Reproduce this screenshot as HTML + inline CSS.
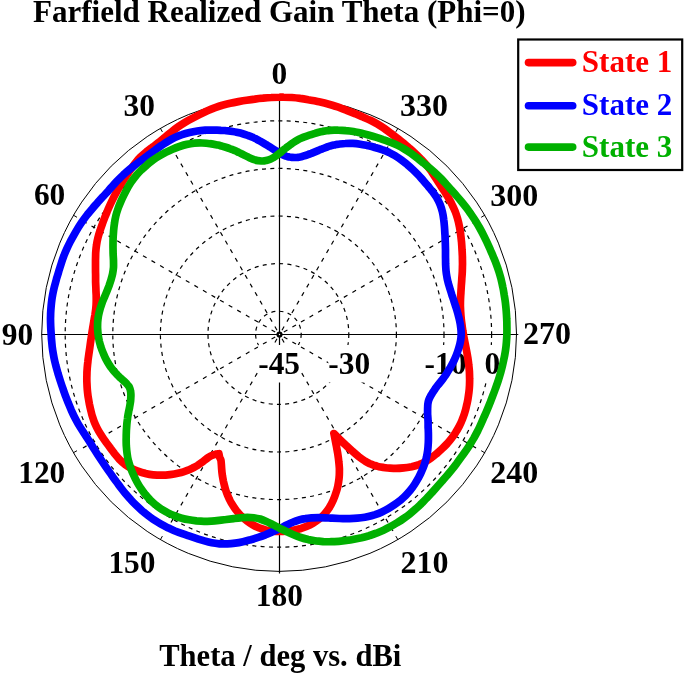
<!DOCTYPE html>
<html lang="en"><head><meta charset="utf-8"><title>Farfield Realized Gain Theta (Phi=0)</title>
<style>html,body{margin:0;padding:0;background:#fff}body{width:685px;height:675px;overflow:hidden}</style></head>
<body>
<svg width="685" height="675" viewBox="0 0 685 675" style="display:block">
<rect width="685" height="675" fill="#fff"/>
<g fill="none" stroke="#000" stroke-width="1">
<circle cx="278.4" cy="334.0" r="22.8" stroke-width="1.2" stroke-dasharray="4 4.3"/>
<circle cx="278.4" cy="334.0" r="70.4" stroke-width="1.2" stroke-dasharray="4 4.3"/>
<circle cx="278.4" cy="334.0" r="118.0" stroke-width="1.2" stroke-dasharray="4 4.3"/>
<circle cx="278.4" cy="334.0" r="165.6" stroke-width="1.2" stroke-dasharray="4 4.3"/>
<circle cx="278.4" cy="334.0" r="213.2" stroke-width="1.2" stroke-dasharray="4 4.3"/>
<line x1="277.0" y1="330.2" x2="163.3" y2="133.2" stroke-width="1.2" stroke-dasharray="4.2 5.7"/>
<line x1="162.4" y1="131.9" x2="160.2" y2="128.0"/>
<line x1="275.2" y1="332.0" x2="78.2" y2="218.3" stroke-width="1.2" stroke-dasharray="4.2 5.7"/>
<line x1="77.0" y1="217.3" x2="73.1" y2="215.0"/>
<line x1="275.2" y1="337.0" x2="78.2" y2="450.7" stroke-width="1.2" stroke-dasharray="4.2 5.7"/>
<line x1="77.0" y1="450.7" x2="73.1" y2="452.9"/>
<line x1="277.0" y1="338.8" x2="163.3" y2="535.8" stroke-width="1.2" stroke-dasharray="4.2 5.7"/>
<line x1="162.4" y1="536.1" x2="160.2" y2="540.0"/>
<line x1="282.0" y1="338.8" x2="395.7" y2="535.8" stroke-width="1.2" stroke-dasharray="4.2 5.7"/>
<line x1="395.8" y1="536.1" x2="398.1" y2="540.0"/>
<line x1="283.8" y1="337.0" x2="480.8" y2="450.7" stroke-width="1.2" stroke-dasharray="4.2 5.7"/>
<line x1="481.2" y1="450.7" x2="485.1" y2="453.0"/>
<line x1="283.8" y1="332.0" x2="480.8" y2="218.3" stroke-width="1.2" stroke-dasharray="4.2 5.7"/>
<line x1="481.2" y1="217.3" x2="485.1" y2="215.0"/>
<line x1="282.0" y1="330.2" x2="395.7" y2="133.2" stroke-width="1.2" stroke-dasharray="4.2 5.7"/>
<line x1="395.8" y1="131.9" x2="398.1" y2="128.0"/>
<line x1="41.7" y1="334.5" x2="518.3" y2="334.5" stroke-width="1.2"/>
<line x1="279.5" y1="96" x2="279.5" y2="573.4" stroke-width="1.2"/>
<circle cx="279.1" cy="334.0" r="237.4"/>
<circle cx="279.5" cy="334.5" r="1.9" fill="#fff" stroke-width="2.4"/>
</g>
<g font-family="Liberation Serif, Times New Roman, serif" font-weight="bold">
<rect x="258.2" y="345" width="41.9" height="37.5" fill="#fff"/>
<text transform="translate(279.1 373.8) scale(1.0 1)" font-size="31.4" text-anchor="middle" fill="#000">-45</text>
<rect x="328.3" y="345" width="41.9" height="37.5" fill="#fff"/>
<text transform="translate(349.2 373.8) scale(1.0 1)" font-size="31.4" text-anchor="middle" fill="#000">-30</text>
<rect x="424.6" y="345" width="41.9" height="37.5" fill="#fff"/>
<text transform="translate(445.5 373.8) scale(1.0 1)" font-size="31.4" text-anchor="middle" fill="#000">-10</text>
<rect x="484.4" y="345" width="15.7" height="37.5" fill="#fff"/>
<text transform="translate(492.3 373.8) scale(1.0 1)" font-size="31.4" text-anchor="middle" fill="#000">0</text>
</g>
<g fill="none" stroke-width="7.7" stroke-linejoin="round" stroke-linecap="round">
<path stroke="#ff0000" d="M279.5 97.2C277.4 97.2 274.0 97.3 271.2 97.5C268.5 97.6 265.7 97.9 263.0 98.2C260.2 98.4 257.5 98.7 254.8 99.1C252.0 99.4 249.3 99.8 246.6 100.2C243.9 100.6 241.1 101.1 238.4 101.6C235.7 102.1 233.0 102.6 230.3 103.2C227.7 103.8 225.0 104.5 222.3 105.2C219.7 106.0 217.1 106.9 214.5 107.8C211.9 108.8 209.4 109.9 206.9 111.0C204.4 112.2 201.9 113.4 199.5 114.6C197.0 115.8 194.6 117.0 192.2 118.3C189.7 119.6 187.4 120.9 185.0 122.3C182.7 123.7 180.4 125.2 178.2 126.7C175.9 128.3 173.8 130.0 171.7 131.7C169.5 133.4 167.5 135.2 165.4 136.9C163.3 138.6 161.3 140.4 159.2 142.0C157.1 143.7 155.0 145.2 152.9 146.8C150.8 148.4 148.7 149.9 146.6 151.6C144.6 153.3 142.6 155.0 140.7 156.8C138.8 158.7 137.1 160.7 135.4 162.8C133.8 164.9 132.2 167.1 130.7 169.3C129.2 171.4 127.8 173.7 126.3 175.9C124.9 178.1 123.5 180.3 122.1 182.5C120.8 184.8 119.4 187.0 118.1 189.2C116.9 191.5 115.6 193.7 114.4 196.0C113.2 198.3 112.1 200.6 111.0 202.9C109.9 205.2 108.9 207.5 107.9 209.8C106.9 212.2 106.0 214.5 105.0 216.8C104.1 219.1 103.2 221.5 102.4 223.8C101.5 226.2 100.7 228.5 100.0 230.8C99.2 233.2 98.5 235.5 97.9 237.9C97.3 240.3 96.8 242.8 96.5 245.2C96.1 247.7 95.9 250.2 95.7 252.7C95.6 255.2 95.6 257.7 95.5 260.2C95.5 262.7 95.5 265.1 95.5 267.5C95.5 270.0 95.5 272.4 95.6 274.7C95.6 277.1 95.6 279.5 95.6 281.8C95.7 284.1 95.8 286.4 95.9 288.7C95.9 291.0 96.1 293.3 96.2 295.5C96.2 297.8 96.3 300.0 96.2 302.2C96.2 304.4 96.0 306.5 95.8 308.7C95.6 310.8 95.2 313.0 94.9 315.1C94.5 317.2 94.1 319.4 93.8 321.5C93.4 323.7 93.1 325.8 92.7 328.0C92.4 330.1 92.0 332.3 91.7 334.5C91.4 336.7 91.1 338.9 90.7 341.1C90.4 343.3 90.1 345.5 89.8 347.8C89.5 350.0 89.1 352.3 88.8 354.5C88.5 356.8 88.1 359.1 87.9 361.4C87.6 363.7 87.4 366.1 87.2 368.4C87.0 370.7 86.9 373.1 86.9 375.4C86.8 377.8 86.8 380.2 86.9 382.5C87.0 384.9 87.1 387.2 87.3 389.6C87.5 392.0 87.8 394.3 88.1 396.7C88.5 399.0 88.9 401.4 89.3 403.7C89.8 406.1 90.3 408.4 90.9 410.7C91.4 413.0 92.0 415.4 92.8 417.6C93.5 419.9 94.3 422.2 95.3 424.4C96.2 426.5 97.3 428.7 98.5 430.7C99.7 432.8 101.0 434.8 102.3 436.8C103.6 438.8 105.0 440.7 106.4 442.7C107.8 444.6 109.2 446.5 110.6 448.4C112.1 450.3 113.4 452.2 114.9 454.1C116.4 455.9 117.9 457.8 119.5 459.5C121.2 461.2 122.9 462.8 124.8 464.3C126.8 465.7 128.8 467.0 131.0 468.2C133.2 469.4 135.5 470.4 137.9 471.2C140.3 472.1 142.8 472.9 145.3 473.4C147.9 474.0 150.5 474.5 153.2 474.8C155.9 475.1 158.6 475.2 161.5 475.2C164.3 475.2 167.1 475.0 170.0 474.6C172.9 474.2 176.6 473.5 178.9 473.0C181.1 472.5 181.8 472.3 183.4 471.8C184.9 471.3 186.4 470.8 188.0 470.2C189.6 469.5 191.2 468.8 192.8 468.0C194.5 467.1 196.1 466.3 197.9 465.2C199.6 464.0 201.5 462.6 203.3 461.3C205.1 459.9 207.1 458.3 208.6 457.3C210.2 456.3 211.3 455.8 212.5 455.3C213.7 454.8 214.8 454.4 215.9 454.1C216.9 453.9 218.4 453.8 218.9 453.7C219.0 454.3 219.3 456.2 219.6 457.2C220.0 458.3 220.6 458.8 220.9 460.1C221.2 461.4 221.2 463.3 221.4 465.1C221.5 466.8 221.6 468.8 221.8 470.5C221.9 472.3 222.2 474.1 222.4 475.8C222.7 477.5 223.0 479.2 223.3 480.8C223.7 482.5 224.1 484.1 224.5 485.7C224.9 487.3 225.3 488.9 225.8 490.4C226.3 492.0 226.8 493.4 227.4 494.8C228.0 496.3 228.6 497.6 229.2 498.9C229.9 500.2 230.1 501.0 231.2 502.8C232.3 504.6 234.2 507.6 235.8 509.8C237.4 512.0 239.2 513.9 241.0 515.8C242.8 517.6 244.7 519.2 246.7 520.7C248.6 522.2 250.7 523.6 252.8 524.8C254.8 525.9 257.0 527.0 259.2 527.9C261.4 528.7 263.6 529.4 265.8 530.0C268.1 530.5 270.4 530.8 272.6 531.1C274.9 531.3 277.2 531.4 279.5 531.5C281.8 531.5 284.1 531.4 286.4 531.2C288.7 531.0 290.9 530.7 293.2 530.3C295.5 529.9 297.7 529.4 299.9 528.8C302.1 528.1 304.3 527.3 306.5 526.4C308.6 525.5 310.7 524.5 312.8 523.3C314.8 522.1 316.9 520.8 318.8 519.3C320.7 517.7 322.6 516.1 324.3 514.2C326.0 512.3 327.7 510.2 329.2 507.9C330.7 505.5 332.1 502.9 333.3 500.1C334.5 497.4 335.8 493.5 336.5 491.2C337.3 488.9 337.4 488.0 337.8 486.3C338.1 484.6 338.5 482.9 338.7 481.0C339.0 479.2 339.2 477.3 339.3 475.3C339.4 473.3 339.4 471.2 339.4 468.9C339.3 466.7 339.1 464.2 338.8 461.7C338.6 459.3 338.2 456.6 337.8 454.0C337.4 451.4 336.8 448.6 336.4 446.1C335.9 443.6 335.4 441.0 335.0 438.9C334.6 436.8 334.1 434.4 333.9 433.5C335.0 434.6 338.4 438.0 340.4 440.1C342.5 442.1 344.3 443.8 346.3 445.6C348.3 447.5 350.3 449.4 352.4 451.2C354.5 453.1 356.9 455.2 358.9 456.8C361.0 458.4 363.0 459.9 364.9 461.0C366.7 462.2 368.4 463.0 370.0 463.8C371.6 464.5 373.2 465.0 374.7 465.5C376.2 466.0 377.6 466.3 379.1 466.7C380.5 467.0 382.0 467.2 383.4 467.4C384.8 467.7 385.5 467.8 387.6 468.0C389.7 468.1 393.2 468.4 395.9 468.4C398.6 468.4 401.3 468.2 403.9 467.9C406.6 467.7 409.2 467.2 411.7 466.7C414.2 466.1 416.7 465.4 419.0 464.6C421.3 463.7 423.5 462.7 425.6 461.5C427.7 460.4 429.7 459.0 431.6 457.6C433.5 456.3 435.3 454.7 437.1 453.2C438.9 451.7 440.6 450.1 442.3 448.5C444.0 446.9 445.7 445.2 447.3 443.5C448.9 441.7 450.4 439.9 451.8 438.0C453.2 436.2 454.6 434.2 455.8 432.2C457.1 430.2 458.2 428.2 459.3 426.1C460.4 424.0 461.4 421.9 462.2 419.7C463.1 417.5 463.9 415.3 464.6 413.1C465.3 410.8 465.9 408.5 466.4 406.3C467.0 404.0 467.5 401.7 467.9 399.4C468.3 397.1 468.6 394.7 468.9 392.4C469.2 390.1 469.4 387.7 469.5 385.4C469.6 383.1 469.7 380.7 469.6 378.4C469.6 376.1 469.5 373.7 469.4 371.4C469.2 369.1 469.0 366.8 468.7 364.5C468.5 362.2 468.1 359.9 467.8 357.6C467.4 355.4 467.0 353.1 466.6 350.9C466.2 348.6 465.7 346.4 465.3 344.2C464.9 342.0 464.4 339.9 464.0 337.7C463.6 335.6 463.3 333.4 462.9 331.3C462.6 329.2 462.2 327.1 462.0 324.9C461.7 322.8 461.4 320.7 461.2 318.6C461.0 316.5 460.8 314.4 460.7 312.3C460.5 310.1 460.5 308.0 460.4 305.8C460.4 303.7 460.4 301.5 460.5 299.3C460.6 297.1 460.7 294.9 460.9 292.6C461.0 290.4 461.2 288.1 461.3 285.8C461.5 283.5 461.7 281.1 461.8 278.8C462.0 276.4 462.2 274.0 462.3 271.6C462.4 269.2 462.4 266.7 462.5 264.3C462.5 261.8 462.4 259.4 462.4 256.9C462.3 254.4 462.2 251.9 462.0 249.4C461.9 246.9 461.7 244.3 461.5 241.8C461.2 239.2 461.0 236.7 460.6 234.1C460.3 231.5 459.9 228.9 459.4 226.4C458.9 223.9 458.3 221.3 457.6 218.8C456.9 216.3 456.1 213.9 455.2 211.5C454.2 209.1 453.2 206.8 452.0 204.5C450.9 202.2 449.7 200.0 448.4 197.8C447.1 195.6 445.6 193.4 444.3 191.3C442.9 189.1 441.4 187.0 440.0 184.8C438.6 182.6 437.2 180.4 435.8 178.2C434.4 176.0 433.0 173.7 431.5 171.5C429.9 169.4 428.3 167.3 426.6 165.2C424.9 163.2 423.1 161.3 421.3 159.4C419.4 157.5 417.6 155.7 415.6 153.8C413.7 152.0 411.8 150.2 409.8 148.5C407.8 146.7 405.7 145.0 403.7 143.3C401.6 141.6 399.5 140.0 397.4 138.3C395.3 136.7 393.1 135.0 391.0 133.4C388.8 131.8 386.7 130.1 384.4 128.5C382.2 127.0 379.9 125.5 377.6 124.1C375.3 122.8 372.8 121.5 370.4 120.3C368.0 119.1 365.5 118.1 363.0 117.0C360.5 115.9 358.0 114.9 355.5 113.8C353.0 112.8 350.4 111.8 347.9 110.8C345.3 109.8 342.8 108.8 340.2 107.9C337.6 107.0 335.1 106.0 332.4 105.2C329.8 104.4 327.2 103.7 324.5 103.0C321.8 102.3 319.1 101.8 316.4 101.2C313.8 100.7 311.1 100.1 308.3 99.7C305.6 99.2 302.9 98.7 300.2 98.4C297.4 98.0 294.7 97.7 291.9 97.5C289.2 97.3 285.7 97.2 283.6 97.2C281.6 97.1 281.6 97.1 279.5 97.2Z"/>
<path stroke="#0000ff" d="M279.5 152.9C278.4 152.3 277.4 151.6 276.3 151.0C275.2 150.3 274.1 149.6 273.0 148.9C271.9 148.2 270.8 147.5 269.7 146.8C268.5 146.1 267.4 145.4 266.2 144.7C265.1 144.0 263.9 143.3 262.7 142.6C261.5 141.9 260.3 141.2 259.1 140.6C257.9 139.9 256.7 139.2 255.4 138.6C254.2 138.0 253.0 137.4 251.7 136.9C250.5 136.4 249.2 135.9 248.0 135.5C246.7 135.0 245.5 134.6 244.2 134.2C242.9 133.8 241.6 133.4 240.4 133.1C239.1 132.8 237.8 132.5 236.5 132.2C235.2 131.9 233.9 131.7 232.6 131.5C231.3 131.3 230.0 131.1 228.7 130.9C227.5 130.8 226.2 130.7 224.9 130.5C223.5 130.4 222.2 130.3 220.9 130.3C219.6 130.2 218.3 130.1 217.0 130.1C215.7 130.1 215.0 130.0 213.1 130.0C211.1 130.1 207.8 130.1 205.2 130.2C202.5 130.4 199.9 130.6 197.3 131.0C194.7 131.4 192.1 131.9 189.6 132.5C187.0 133.1 184.5 133.8 182.0 134.7C179.6 135.5 177.2 136.5 174.8 137.6C172.5 138.7 170.2 140.0 167.9 141.3C165.7 142.6 163.6 144.1 161.4 145.5C159.3 147.0 157.2 148.5 155.1 150.1C153.0 151.6 150.9 153.2 148.9 154.7C146.8 156.3 144.7 157.8 142.7 159.3C140.6 160.9 138.5 162.4 136.4 164.0C134.4 165.6 132.3 167.2 130.3 168.8C128.3 170.5 126.3 172.2 124.4 173.9C122.5 175.7 120.6 177.4 118.8 179.3C116.9 181.1 115.2 183.0 113.4 185.0C111.7 186.9 110.0 188.9 108.3 190.8C106.5 192.7 104.8 194.7 103.0 196.6C101.3 198.6 99.5 200.5 97.7 202.4C96.0 204.4 94.2 206.4 92.5 208.4C90.8 210.4 89.1 212.4 87.4 214.5C85.8 216.6 84.2 218.7 82.7 220.9C81.2 223.0 79.7 225.3 78.3 227.5C76.9 229.8 75.6 232.1 74.3 234.4C73.0 236.7 71.7 239.0 70.4 241.4C69.2 243.8 68.0 246.2 66.9 248.6C65.8 251.0 64.7 253.5 63.8 256.0C62.8 258.5 62.0 261.0 61.2 263.6C60.4 266.1 59.6 268.7 58.8 271.2C58.1 273.8 57.3 276.3 56.5 278.9C55.8 281.5 55.1 284.1 54.4 286.7C53.8 289.3 53.2 291.9 52.7 294.5C52.2 297.1 51.8 299.8 51.5 302.5C51.2 305.1 51.0 307.8 50.8 310.5C50.6 313.1 50.6 315.8 50.5 318.5C50.5 321.2 50.6 323.8 50.7 326.5C50.8 329.2 51.0 331.8 51.2 334.5C51.3 337.2 51.5 339.8 51.8 342.5C52.0 345.1 52.3 347.7 52.7 350.4C53.1 353.0 53.6 355.6 54.1 358.2C54.6 360.8 55.3 363.4 55.9 365.9C56.6 368.5 57.3 371.0 58.0 373.5C58.8 376.1 59.6 378.6 60.4 381.1C61.2 383.6 62.0 386.0 62.9 388.5C63.7 391.0 64.6 393.4 65.5 395.9C66.4 398.3 67.4 400.7 68.3 403.1C69.3 405.5 70.3 407.9 71.3 410.3C72.4 412.6 73.4 415.0 74.6 417.3C75.8 419.6 77.0 421.9 78.3 424.1C79.6 426.3 81.0 428.5 82.4 430.6C83.8 432.8 85.2 434.9 86.6 437.1C88.0 439.2 89.3 441.4 90.7 443.5C92.0 445.7 93.3 447.8 94.7 450.0C96.0 452.1 97.4 454.3 98.8 456.4C100.2 458.5 101.6 460.6 103.0 462.7C104.4 464.9 105.8 467.0 107.3 469.0C108.8 471.1 110.2 473.2 111.7 475.3C113.2 477.4 114.7 479.4 116.2 481.5C117.8 483.6 119.3 485.7 120.8 487.7C122.4 489.8 124.0 491.8 125.6 493.8C127.3 495.8 129.0 497.8 130.8 499.7C132.5 501.6 134.3 503.5 136.2 505.3C138.1 507.1 140.0 508.9 141.9 510.6C143.9 512.3 145.9 513.9 148.0 515.5C150.0 517.1 152.2 518.6 154.3 520.1C156.5 521.5 158.7 522.8 161.0 524.1C163.3 525.4 165.6 526.6 167.9 527.8C170.3 528.9 172.6 530.0 175.0 531.0C177.4 531.9 179.9 532.8 182.3 533.7C184.8 534.6 187.3 535.4 189.7 536.2C192.2 537.0 194.6 537.8 197.0 538.6C199.5 539.4 201.9 540.2 204.4 540.9C206.8 541.6 209.3 542.3 211.8 542.8C214.3 543.3 216.9 543.6 219.5 543.8C222.1 544.0 224.7 544.0 227.3 543.9C229.9 543.8 232.5 543.5 235.2 543.1C237.8 542.8 240.4 542.3 243.0 541.7C245.6 541.1 248.1 540.4 250.7 539.7C253.2 539.0 255.7 538.2 258.2 537.4C260.6 536.6 263.1 535.7 265.5 534.8C267.9 533.8 270.3 532.9 272.6 531.8C274.9 530.8 277.2 529.7 279.5 528.6C281.8 527.5 284.0 526.3 286.2 525.2C288.3 524.2 290.5 523.1 292.6 522.3C294.8 521.4 296.9 520.6 299.0 520.0C301.1 519.4 303.2 518.9 305.4 518.6C307.5 518.2 309.7 518.0 311.8 517.8C314.0 517.7 316.2 517.7 318.4 517.7C320.7 517.7 322.9 517.7 325.2 517.8C327.5 517.9 329.8 518.1 332.2 518.2C334.5 518.3 336.9 518.4 339.3 518.5C341.7 518.5 344.1 518.6 346.5 518.6C348.9 518.6 351.4 518.5 353.8 518.4C356.2 518.3 358.7 518.1 361.1 517.8C363.5 517.5 365.9 517.1 368.3 516.5C370.6 516.0 373.0 515.3 375.2 514.6C377.5 513.8 379.8 512.9 381.9 511.9C384.1 510.9 386.2 509.8 388.3 508.6C390.4 507.4 392.4 506.1 394.3 504.8C396.3 503.4 398.2 502.0 400.1 500.5C401.9 498.9 403.7 497.4 405.4 495.7C407.1 494.0 408.7 492.2 410.3 490.3C411.8 488.5 413.2 486.5 414.5 484.5C415.9 482.4 417.1 480.3 418.3 478.2C419.4 476.1 420.5 473.9 421.5 471.6C422.5 469.4 423.5 467.2 424.3 464.8C425.1 462.5 425.8 460.2 426.4 457.7C426.9 455.3 427.4 452.8 427.7 450.3C428.0 447.8 428.2 444.5 428.3 442.6C428.4 440.7 428.4 440.0 428.4 438.8C428.4 437.5 428.4 436.2 428.4 434.9C428.4 433.7 428.4 432.4 428.3 431.1C428.3 429.9 428.2 428.6 428.1 427.4C428.1 426.2 428.1 425.0 428.1 423.8C428.1 422.6 428.1 421.4 428.0 420.3C428.0 419.1 427.9 417.9 427.8 416.7C427.7 415.5 427.6 414.4 427.6 413.2C427.6 412.1 427.6 411.0 427.6 409.9C427.6 408.9 427.6 407.8 427.7 406.8C427.7 405.7 427.8 404.7 427.9 403.7C428.1 402.7 428.2 401.8 428.5 400.8C428.8 399.9 429.1 399.0 429.5 398.2C429.9 397.3 430.3 396.5 430.8 395.6C431.3 394.8 431.8 394.0 432.3 393.2C432.8 392.3 433.4 391.5 433.9 390.7C434.5 389.9 435.0 389.1 435.6 388.2C436.1 387.4 436.8 386.6 437.4 385.8C438.0 385.0 438.7 384.2 439.4 383.4C440.0 382.6 440.7 381.7 441.4 380.9C442.0 380.1 442.7 379.2 443.3 378.4C443.9 377.5 444.5 376.7 445.1 375.8C445.7 374.9 446.0 374.5 446.9 373.1C447.7 371.8 449.1 369.5 450.2 367.7C451.3 365.8 452.3 363.9 453.3 362.0C454.2 360.1 455.1 358.1 455.9 356.2C456.7 354.2 457.4 352.2 458.1 350.1C458.8 348.1 459.4 346.0 459.9 344.0C460.4 341.9 460.8 339.8 461.0 337.7C461.2 335.6 461.2 333.4 461.1 331.3C461.0 329.2 460.7 327.1 460.4 325.0C460.1 322.9 459.6 320.8 459.2 318.8C458.7 316.7 458.1 314.7 457.6 312.6C457.0 310.6 456.4 308.6 455.7 306.6C455.1 304.6 454.4 302.6 453.8 300.6C453.1 298.6 452.5 296.7 451.8 294.7C451.2 292.7 450.6 290.8 450.0 288.8C449.4 286.9 448.8 284.9 448.2 282.9C447.7 280.9 447.2 278.9 446.9 276.9C446.5 274.8 446.2 272.7 446.0 270.6C445.8 268.4 445.7 266.2 445.6 264.0C445.6 261.7 445.6 259.4 445.5 257.1C445.5 254.7 445.5 252.4 445.5 249.9C445.4 247.5 445.4 245.1 445.3 242.6C445.2 240.1 445.1 237.6 445.0 235.1C444.8 232.5 444.7 229.9 444.5 227.3C444.3 224.8 444.1 222.1 443.7 219.5C443.4 216.9 443.0 214.3 442.4 211.8C441.8 209.3 441.0 206.8 440.1 204.5C439.2 202.1 438.0 199.9 436.8 197.8C435.5 195.7 434.1 193.7 432.6 191.7C431.1 189.8 429.5 187.9 428.0 186.0C426.4 184.2 424.8 182.3 423.2 180.4C421.5 178.6 419.9 176.7 418.2 174.9C416.5 173.1 414.8 171.4 413.0 169.7C411.2 168.0 409.3 166.3 407.4 164.7C405.6 163.1 403.6 161.6 401.6 160.1C399.6 158.6 397.6 157.2 395.5 155.9C393.3 154.7 391.1 153.5 388.9 152.4C386.6 151.4 384.3 150.5 382.0 149.7C379.6 148.8 377.2 148.1 374.8 147.5C372.4 146.8 370.0 146.2 367.6 145.6C365.1 145.1 362.7 144.6 360.3 144.2C357.8 143.8 355.3 143.5 352.8 143.4C350.3 143.3 347.8 143.3 345.3 143.5C342.7 143.6 339.6 144.1 337.6 144.3C335.7 144.6 335.1 144.8 333.8 145.1C332.5 145.4 331.3 145.7 330.0 146.1C328.7 146.4 327.4 146.9 326.2 147.3C324.9 147.8 323.6 148.3 322.4 148.8C321.1 149.3 319.9 149.9 318.6 150.4C317.4 150.9 316.2 151.4 315.0 151.9C313.8 152.4 312.6 152.9 311.4 153.4C310.3 153.8 309.1 154.2 308.0 154.6C306.9 155.0 305.7 155.4 304.6 155.7C303.5 156.1 302.4 156.4 301.3 156.7C300.2 156.9 299.2 157.2 298.1 157.3C297.1 157.4 296.0 157.5 295.0 157.5C293.9 157.5 292.9 157.5 291.9 157.4C290.9 157.3 289.8 157.2 288.8 156.9C287.8 156.7 286.8 156.4 285.7 156.0C284.7 155.7 283.7 155.2 282.6 154.7C281.6 154.2 280.6 153.5 279.5 152.9Z"/>
<path stroke="#00b000" d="M279.5 153.2C278.4 154.1 277.4 154.9 276.4 155.6C275.3 156.4 274.3 157.1 273.3 157.7C272.3 158.4 271.3 158.9 270.3 159.3C269.3 159.7 268.3 160.1 267.3 160.3C266.3 160.6 265.3 160.7 264.3 160.8C263.3 160.9 262.3 161.0 261.3 161.0C260.2 160.9 259.2 160.8 258.2 160.7C257.1 160.5 256.0 160.3 255.0 159.9C253.9 159.6 252.8 159.2 251.7 158.7C250.5 158.2 249.4 157.7 248.2 157.1C247.1 156.6 245.9 156.0 244.7 155.4C243.5 154.8 242.3 154.1 241.0 153.5C239.8 152.9 238.5 152.3 237.3 151.7C236.0 151.1 234.8 150.6 233.5 150.0C232.2 149.5 231.0 149.0 229.7 148.6C228.4 148.1 227.1 147.7 225.8 147.3C224.5 146.9 223.2 146.5 221.9 146.1C220.6 145.8 219.9 145.5 218.0 145.1C216.0 144.7 212.7 144.0 210.0 143.7C207.4 143.3 204.7 143.1 202.1 143.0C199.5 142.9 196.9 143.0 194.3 143.2C191.8 143.5 189.3 143.9 186.8 144.4C184.3 144.9 181.9 145.7 179.5 146.5C177.1 147.3 174.8 148.2 172.5 149.2C170.2 150.2 167.9 151.3 165.7 152.4C163.5 153.6 161.3 154.8 159.2 156.1C157.0 157.4 154.9 158.8 152.9 160.2C150.9 161.7 148.9 163.2 147.0 164.9C145.0 166.5 143.2 168.2 141.4 169.9C139.6 171.7 137.9 173.5 136.2 175.4C134.6 177.3 133.1 179.3 131.6 181.4C130.2 183.5 128.9 185.6 127.6 187.8C126.4 190.0 125.2 192.3 124.1 194.6C123.0 196.8 121.9 199.1 120.9 201.4C119.9 203.7 118.9 206.0 118.1 208.4C117.3 210.8 116.5 213.2 115.9 215.6C115.3 218.1 114.8 220.6 114.5 223.2C114.1 225.7 113.8 228.3 113.6 230.8C113.4 233.4 113.2 235.9 113.1 238.5C113.0 241.0 113.0 243.5 113.0 246.0C113.0 248.5 113.1 250.9 113.1 253.4C113.2 255.8 113.4 258.2 113.5 260.6C113.5 262.9 113.6 265.2 113.5 267.4C113.3 269.6 113.0 271.7 112.6 273.8C112.2 275.8 111.6 277.8 111.0 279.8C110.4 281.7 109.8 283.7 109.1 285.6C108.3 287.6 107.6 289.5 106.8 291.4C106.0 293.4 105.2 295.3 104.4 297.3C103.6 299.2 102.7 301.2 102.0 303.2C101.3 305.2 100.5 307.2 100.0 309.3C99.4 311.3 98.9 313.4 98.5 315.5C98.1 317.6 97.9 319.7 97.7 321.8C97.6 323.9 97.5 326.0 97.6 328.1C97.7 330.3 97.9 332.4 98.1 334.5C98.4 336.6 98.8 338.7 99.2 340.8C99.7 342.9 100.3 344.9 100.9 347.0C101.6 349.0 102.3 351.0 103.2 353.0C104.0 355.0 104.8 357.0 105.8 358.9C106.8 360.8 108.2 363.2 109.1 364.6C109.9 365.9 110.3 366.4 110.9 367.3C111.6 368.2 112.3 369.0 112.9 369.9C113.6 370.8 114.4 371.6 115.1 372.5C115.8 373.3 116.6 374.1 117.3 374.9C118.1 375.7 118.9 376.5 119.7 377.3C120.6 378.1 121.4 378.8 122.3 379.6C123.1 380.3 124.0 381.1 124.7 381.8C125.5 382.6 126.3 383.3 127.0 384.1C127.7 384.8 128.3 385.6 128.9 386.4C129.4 387.2 129.7 388.0 130.0 388.9C130.3 389.8 130.5 390.7 130.6 391.6C130.8 392.6 130.8 393.6 130.9 394.6C130.9 395.6 130.9 396.6 130.8 397.6C130.8 398.7 130.7 399.7 130.6 400.8C130.5 401.9 130.3 403.0 130.1 404.2C129.9 405.3 129.7 406.5 129.5 407.7C129.2 408.9 129.0 410.1 128.7 411.3C128.5 412.5 128.3 413.8 128.0 415.0C127.8 416.3 127.6 417.5 127.5 418.8C127.3 420.0 127.2 420.6 127.0 422.5C126.8 424.4 126.6 427.6 126.4 430.2C126.3 432.7 126.2 435.3 126.2 437.9C126.1 440.5 126.2 443.2 126.3 445.8C126.5 448.4 126.7 451.0 127.1 453.6C127.4 456.2 127.9 458.7 128.5 461.2C129.2 463.6 129.9 466.0 130.8 468.4C131.6 470.8 132.6 473.1 133.7 475.3C134.7 477.6 135.8 479.8 137.0 482.0C138.2 484.2 139.5 486.4 140.9 488.4C142.3 490.5 143.7 492.5 145.3 494.4C146.8 496.4 148.5 498.2 150.2 500.0C151.9 501.7 153.8 503.4 155.7 504.9C157.6 506.5 159.6 507.9 161.6 509.3C163.7 510.6 165.8 511.8 168.0 512.9C170.2 514.0 172.5 515.0 174.8 515.9C177.1 516.8 179.4 517.6 181.8 518.2C184.2 518.9 186.7 519.4 189.1 519.8C191.6 520.3 194.0 520.6 196.5 520.9C199.0 521.1 201.5 521.3 204.0 521.3C206.5 521.3 209.1 521.2 211.6 521.1C214.1 521.0 216.6 520.7 219.1 520.4C221.6 520.2 224.0 519.8 226.4 519.5C228.9 519.2 231.3 518.9 233.6 518.6C236.0 518.3 238.3 518.0 240.5 517.8C242.8 517.6 245.0 517.4 247.3 517.4C249.5 517.4 251.6 517.4 253.8 517.7C255.9 518.0 258.0 518.4 260.1 519.0C262.2 519.7 264.3 520.6 266.4 521.5C268.5 522.4 270.7 523.6 272.9 524.7C275.0 525.8 277.2 527.0 279.5 528.2C281.8 529.3 284.0 530.4 286.4 531.5C288.7 532.6 291.1 533.7 293.5 534.7C295.9 535.7 298.4 536.7 300.8 537.5C303.3 538.3 305.8 539.0 308.3 539.6C310.8 540.1 313.4 540.5 315.9 540.9C318.4 541.2 321.0 541.4 323.5 541.6C326.1 541.7 328.6 541.8 331.2 541.7C333.7 541.7 336.3 541.5 338.8 541.3C341.3 541.1 343.9 540.8 346.4 540.4C348.9 540.1 351.5 539.7 354.0 539.2C356.5 538.7 359.1 538.2 361.6 537.7C364.1 537.1 366.6 536.4 369.1 535.7C371.5 534.9 374.0 534.1 376.4 533.2C378.8 532.2 381.2 531.2 383.5 530.2C385.9 529.1 388.2 527.9 390.4 526.7C392.7 525.4 394.9 524.1 397.1 522.8C399.3 521.4 401.5 520.0 403.6 518.5C405.7 517.0 407.8 515.5 409.8 513.9C411.8 512.3 413.8 510.6 415.7 508.9C417.7 507.2 419.5 505.4 421.4 503.6C423.2 501.8 425.0 499.9 426.8 498.1C428.6 496.2 430.3 494.4 432.0 492.5C433.8 490.6 435.4 488.6 437.1 486.7C438.8 484.8 440.5 482.9 442.2 481.0C443.8 479.0 445.5 477.1 447.2 475.2C448.8 473.3 450.5 471.3 452.1 469.3C453.7 467.4 455.2 465.3 456.8 463.3C458.3 461.3 459.8 459.2 461.3 457.1C462.8 455.0 464.3 453.0 465.7 450.9C467.2 448.8 468.6 446.6 470.0 444.5C471.4 442.3 472.7 440.1 474.0 437.9C475.2 435.7 476.4 433.4 477.6 431.1C478.8 428.8 479.8 426.5 480.9 424.2C482.0 421.8 483.0 419.5 484.0 417.1C485.0 414.8 486.1 412.4 487.1 410.0C488.1 407.7 489.1 405.3 490.0 402.9C491.0 400.5 491.9 398.1 492.8 395.7C493.8 393.2 494.7 390.8 495.5 388.4C496.4 385.9 497.3 383.5 498.1 381.0C498.9 378.5 499.7 376.0 500.4 373.5C501.1 370.9 501.8 368.4 502.4 365.8C503.0 363.3 503.6 360.7 504.1 358.1C504.7 355.5 505.1 352.9 505.5 350.3C505.9 347.7 506.2 345.1 506.4 342.4C506.6 339.8 506.8 337.1 506.9 334.5C506.9 331.9 507.0 329.2 506.9 326.6C506.9 323.9 506.9 321.3 506.7 318.6C506.6 316.0 506.4 313.3 506.2 310.7C506.0 308.0 505.7 305.4 505.4 302.8C505.1 300.1 504.7 297.5 504.2 294.9C503.8 292.3 503.4 289.6 502.8 287.0C502.3 284.4 501.7 281.8 501.1 279.3C500.4 276.7 499.7 274.1 498.9 271.6C498.1 269.1 497.2 266.5 496.3 264.1C495.4 261.6 494.3 259.1 493.3 256.7C492.3 254.2 491.2 251.8 490.2 249.4C489.1 247.0 488.0 244.6 486.9 242.2C485.8 239.8 484.6 237.4 483.4 235.0C482.3 232.7 481.0 230.3 479.7 228.0C478.4 225.7 477.1 223.5 475.7 221.2C474.3 219.0 472.8 216.8 471.3 214.6C469.8 212.5 468.3 210.3 466.7 208.2C465.1 206.1 463.5 204.1 461.8 202.0C460.2 200.0 458.5 198.0 456.7 196.0C455.0 194.0 453.3 192.1 451.5 190.2C449.8 188.2 448.1 186.2 446.3 184.3C444.6 182.4 442.8 180.4 441.0 178.5C439.2 176.7 437.3 174.8 435.4 173.1C433.5 171.3 431.5 169.6 429.5 167.9C427.5 166.3 425.5 164.6 423.4 163.0C421.4 161.3 419.4 159.6 417.4 158.1C415.3 156.5 413.2 154.9 411.1 153.4C408.9 151.9 406.8 150.5 404.5 149.1C402.3 147.8 400.0 146.5 397.7 145.4C395.3 144.3 392.9 143.3 390.5 142.3C388.0 141.4 385.5 140.5 383.1 139.7C380.6 138.8 378.2 138.0 375.7 137.2C373.3 136.4 370.8 135.7 368.3 135.0C365.9 134.3 363.4 133.6 360.9 133.0C358.4 132.5 355.9 131.9 353.4 131.5C350.9 131.1 348.3 130.8 345.8 130.6C343.2 130.3 340.0 130.2 338.1 130.2C336.2 130.1 335.5 130.2 334.2 130.2C333.0 130.2 331.7 130.3 330.4 130.4C329.1 130.5 327.8 130.6 326.5 130.8C325.2 131.0 323.9 131.2 322.7 131.4C321.4 131.7 320.1 132.0 318.8 132.3C317.5 132.6 316.2 133.0 315.0 133.4C313.7 133.8 312.4 134.2 311.2 134.6C309.9 135.0 308.7 135.4 307.4 135.8C306.2 136.2 305.0 136.6 303.7 137.1C302.5 137.6 301.3 138.0 300.1 138.6C298.9 139.2 297.7 139.9 296.5 140.6C295.3 141.3 294.1 142.1 292.9 142.9C291.7 143.7 290.6 144.6 289.4 145.4C288.3 146.3 287.1 147.1 286.0 148.0C284.9 148.8 283.8 149.7 282.7 150.6C281.6 151.5 280.6 152.4 279.5 153.2Z"/>
</g>
<g font-family="Liberation Serif, Times New Roman, serif" font-weight="bold">
<text transform="translate(33 22.3) scale(0.988 1)" font-size="31.4" text-anchor="start" fill="#000">Farfield Realized Gain Theta (Phi=0)</text>
<text transform="translate(159.2 665.6) scale(0.974 1)" font-size="31.4" text-anchor="start" fill="#000">Theta / deg vs. dBi</text>
<text transform="translate(279.3 83.6) scale(1.0 1)" font-size="31.4" text-anchor="middle" fill="#000">0</text>
<text transform="translate(155 116.1) scale(1.0 1)" font-size="31.4" text-anchor="end" fill="#000">30</text>
<text transform="translate(400.0 116.0) scale(1.02 1)" font-size="31.4" text-anchor="start" fill="#000">330</text>
<text transform="translate(65.3 205.3) scale(1.0 1)" font-size="31.4" text-anchor="end" fill="#000">60</text>
<text transform="translate(490.2 205.7) scale(1.02 1)" font-size="31.4" text-anchor="start" fill="#000">300</text>
<text transform="translate(33.2 344.7) scale(1.0 1)" font-size="31.4" text-anchor="end" fill="#000">90</text>
<text transform="translate(522.9 344.4) scale(1.02 1)" font-size="31.4" text-anchor="start" fill="#000">270</text>
<text transform="translate(65.3 483.1) scale(1.0 1)" font-size="31.4" text-anchor="end" fill="#000">120</text>
<text transform="translate(490.3 483.1) scale(1.02 1)" font-size="31.4" text-anchor="start" fill="#000">240</text>
<text transform="translate(155.5 572.5) scale(1.0 1)" font-size="31.4" text-anchor="end" fill="#000">150</text>
<text transform="translate(400.4 572.6) scale(1.02 1)" font-size="31.4" text-anchor="start" fill="#000">210</text>
<text transform="translate(279.3 605.6) scale(1.0 1)" font-size="31.4" text-anchor="middle" fill="#000">180</text>
</g>
<rect x="518.2" y="39.5" width="164" height="130.5" fill="#fff" stroke="#000" stroke-width="2.2"/>
<g stroke-width="7.6" stroke-linecap="round">
<line x1="528.5" y1="62.6" x2="572.7" y2="62.6" stroke="#ff0000"/>
<line x1="528.5" y1="105.7" x2="572.7" y2="105.7" stroke="#0000ff"/>
<line x1="528.5" y1="147.1" x2="572.7" y2="147.1" stroke="#00b000"/>
</g>
<g font-family="Liberation Serif, Times New Roman, serif" font-weight="bold">
<text transform="translate(581.8 72.4) scale(0.988 1)" font-size="31.4" text-anchor="start" fill="#ff0000">State 1</text>
<text transform="translate(581.8 115.3) scale(0.988 1)" font-size="31.4" text-anchor="start" fill="#0000ff">State 2</text>
<text transform="translate(581.8 156.6) scale(0.988 1)" font-size="31.4" text-anchor="start" fill="#00b000">State 3</text>
</g>
</svg>
</body></html>
